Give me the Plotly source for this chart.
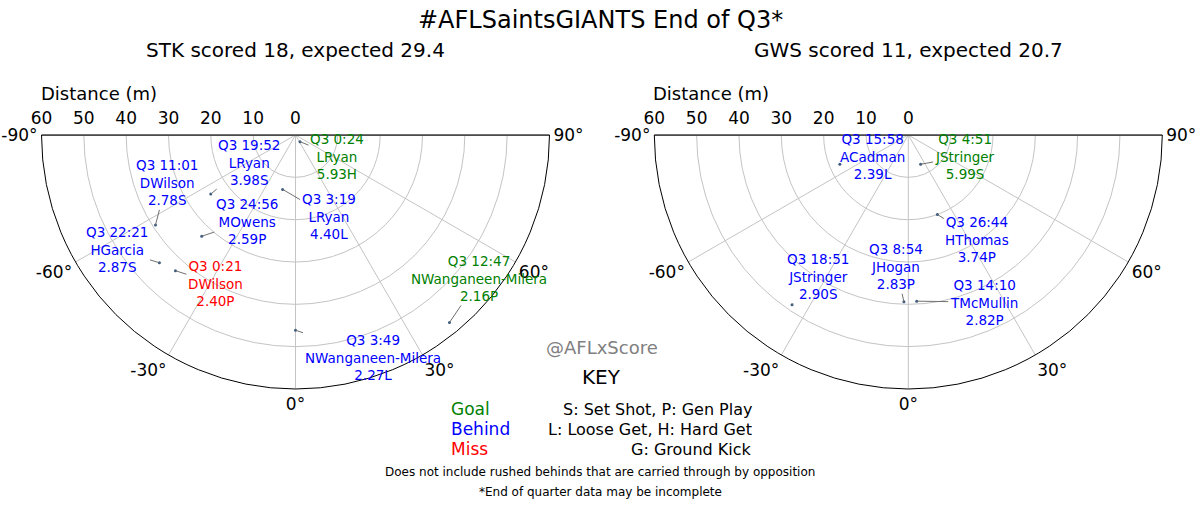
import numpy as np
import plotly.graph_objects as go

W, H = 1200, 524

# St Kilda shots, Q3
stk_time = ["0:24", "19:52", "3:19", "11:01", "24:56", "22:21", "0:21", "3:49", "12:47"]
stk_player = ["LRyan", "LRyan", "LRyan", "DWilson", "MOwens", "HGarcia", "DWilson",
              "NWanganeen-Milera", "NWanganeen-Milera"]
stk_xscore = [5.93, 3.98, 4.40, 2.78, 2.59, 2.87, 2.40, 2.27, 2.16]
stk_type = ["H", "S", "L", "S", "P", "S", "P", "L", "P"]
stk_result = ["goal", "behind", "behind", "behind", "behind", "behind", "miss", "behind", "goal"]
stk_dist = [1.9, 24.4, 13.2, 39.3, 32.6, 44.1, 42.8, 46.1, 57.3]
stk_angle = [33.9, -55.1, -13.3, -57.3, -42.8, -46.8, -41.5, 0.0, 39.4]

# GWS shots, Q3
gws_time = ["15:58", "4:51", "26:44", "18:51", "8:54", "14:10"]
gws_player = ["ACadman", "JStringer", "HThomas", "JStringer", "JHogan", "TMcMullin"]
gws_xscore = [2.39, 5.99, 3.74, 2.90, 2.83, 2.82]
gws_type = ["L", "S", "P", "S", "P", "P"]
gws_result = ["behind", "goal", "behind", "behind", "behind", "behind"]
gws_dist = [17.6, 7.5, 20.0, 48.6, 39.4, 39.3]
gws_angle = [-66.8, 22.9, 20.1, -34.4, -1.5, 2.9]

angle_ticks = [-90, -60, -30, 0, 30, 60, 90]
dist_ticks = [0, 10, 20, 30, 40, 50, 60]

# label offsets (pixels, text centre relative to the shot)
stk_offsets = [(37, 15), (38, -32), (46, 27), (11, -42), (45, -15), (-42, -13),
               (40, 13), (77, 27), (30, -44)]
gws_offsets = [(33, -8), (44, -8), (40, 25), (26, -28), (-8, -35), (67, 1)]

colors = {"goal": "green", "behind": "blue", "miss": "red"}
points = {"goal": 6, "behind": 1, "miss": 0}
FONT = "DejaVu Sans"


def px(x, y):
    return x / W, 1 - y / H


def paper_text(x, y, text, size, color="black", anchor="center"):
    fx, fy = px(x, y)
    return dict(x=fx, y=fy, xref="paper", yref="paper", showarrow=False,
                xanchor=anchor, yanchor="middle", text=text,
                font=dict(family=FONT, size=size, color=color))


R = 254
centres = [(295.5, 135), (908.3, 135)]
domains = []
for cx, cy in centres:
    x0, y1 = px(cx - R, cy)
    x1, y0 = px(cx + R, cy + R)
    domains.append(([x0, x1], [y0, y1]))

fig = go.Figure()
annotations = []

teams = [
    ("STK", stk_time, stk_player, stk_xscore, stk_type, stk_result, stk_dist, stk_angle, stk_offsets),
    ("GWS", gws_time, gws_player, gws_xscore, gws_type, gws_result, gws_dist, gws_angle, gws_offsets),
]

for i, (team, times, players, xs, types, results, dist, ang, offs) in enumerate(teams):
    n = i + 1
    sub = "polar" if n == 1 else f"polar{n}"
    xa = "x" if n == 1 else f"x{n}"
    ya = "y" if n == 1 else f"y{n}"

    # top edge of the half circle
    fig.add_trace(go.Scatterpolar(
        r=[dist_ticks[-1], 0, dist_ticks[-1]], theta=[angle_ticks[0], angle_ticks[0], angle_ticks[-1]],
        mode="lines", line=dict(color="#808080", width=1.6),
        hoverinfo="skip", showlegend=False, subplot=sub))

    fig.add_trace(go.Scatterpolar(
        r=dist, theta=ang, mode="markers",
        marker=dict(size=3, color="#3a5a80"),
        showlegend=False, subplot=sub))

    # invisible cartesian overlay, same box as the polar, used for labels
    fig.add_trace(go.Scatter(x=[], y=[], xaxis=xa, yaxis=ya, showlegend=False))

    d = np.array(dist)
    a = np.deg2rad(np.array(ang))
    xx = d * np.sin(a)
    yy = -d * np.cos(a)
    for k in range(len(d)):
        annotations.append(dict(
            x=xx[k], y=yy[k], xref=xa, yref=ya,
            text=f"Q3 {times[k]}<br>{players[k]}<br>{xs[k]:.2f}{types[k]}",
            showarrow=True, arrowhead=0, arrowwidth=1, arrowcolor="#707070",
            standoff=0, ax=offs[k][0], ay=offs[k][1],
            font=dict(family=FONT, size=13.5, color=colors[results[k]])))

    score = sum(points[r] for r in results)
    annotations.append(paper_text(centres[i][0], 50,
                                  f"{team} scored {score}, expected {sum(xs):.1f}", 20))
    annotations.append(paper_text(centres[i][0] - 197, 93, "Distance (m)", 18))

    dom_x, dom_y = domains[i]
    fig.update_layout(**{
        sub: dict(
            domain=dict(x=dom_x, y=dom_y),
            sector=[180, 360],
            bgcolor="rgba(0,0,0,0)",
            angularaxis=dict(
                rotation=270, direction="counterclockwise",
                # visible angular range runs 270..450 here
                tickmode="array", tickvals=[t + 360 for t in angle_ticks],
                ticktext=[f"{t}°" for t in angle_ticks],
                showline=True, linecolor="black", linewidth=1,
                gridcolor="#c4c4c4", gridwidth=1, ticks="",
                tickfont=dict(family=FONT, size=17, color="black")),
            radialaxis=dict(
                range=[0, dist_ticks[-1]], tickvals=dist_ticks[1:-1],
                showticklabels=False, ticks="", showline=False,
                gridcolor="#c4c4c4", gridwidth=1)),
        ("xaxis" if n == 1 else f"xaxis{n}"): dict(
            domain=dom_x, range=[-dist_ticks[-1], dist_ticks[-1]], anchor=ya,
            side="top", tickmode="array", tickvals=[-t for t in dist_ticks],
            ticktext=[str(t) for t in dist_ticks], ticks="", ticklabelstandoff=7,
            showgrid=False, zeroline=False, showline=False, fixedrange=True,
            automargin=False,
            tickfont=dict(family=FONT, size=17, color="black")),
        ("yaxis" if n == 1 else f"yaxis{n}"): dict(
            domain=dom_y, range=[-dist_ticks[-1], 0], anchor=xa, visible=False,
            fixedrange=True, automargin=False),
    })

annotations.append(paper_text(600, 20, "#AFLSaintsGIANTS End of Q3*", 24))
annotations.append(paper_text(601.7, 347, "@AFLxScore", 18, "gray"))
annotations.append(paper_text(601.7, 377, "KEY", 20))

key_left = [("Goal", "green"), ("Behind", "blue"), ("Miss", "red")]
key_right = ["S: Set Shot, P: Gen Play", "L: Loose Get, H: Hard Get", "G: Ground Kick"]
for j in range(3):
    annotations.append(paper_text(449, 409 + 20 * j, key_left[j][0], 17, key_left[j][1], "left"))
    annotations.append(paper_text(754, 409 + 20 * j, key_right[j], 16, "black", "right"))

notes = ["Does not include rushed behinds that are carried through by opposition",
         "*End of quarter data may be incomplete"]
for j, note in enumerate(notes):
    annotations.append(paper_text(600, 472 + 20 * j, note, 12))

fig.update_layout(
    width=W, height=H,
    margin=dict(l=0, r=0, t=0, b=0, autoexpand=False),
    paper_bgcolor="white", plot_bgcolor="rgba(0,0,0,0)",
    annotations=annotations,
    showlegend=False,
    font=dict(family=FONT),
)

# drop the browser's default page margin so the figure sits at 0,0
fig.write_html("out.html", config={"displayModeBar": False},
               post_script="document.body.style.margin = '0';")
